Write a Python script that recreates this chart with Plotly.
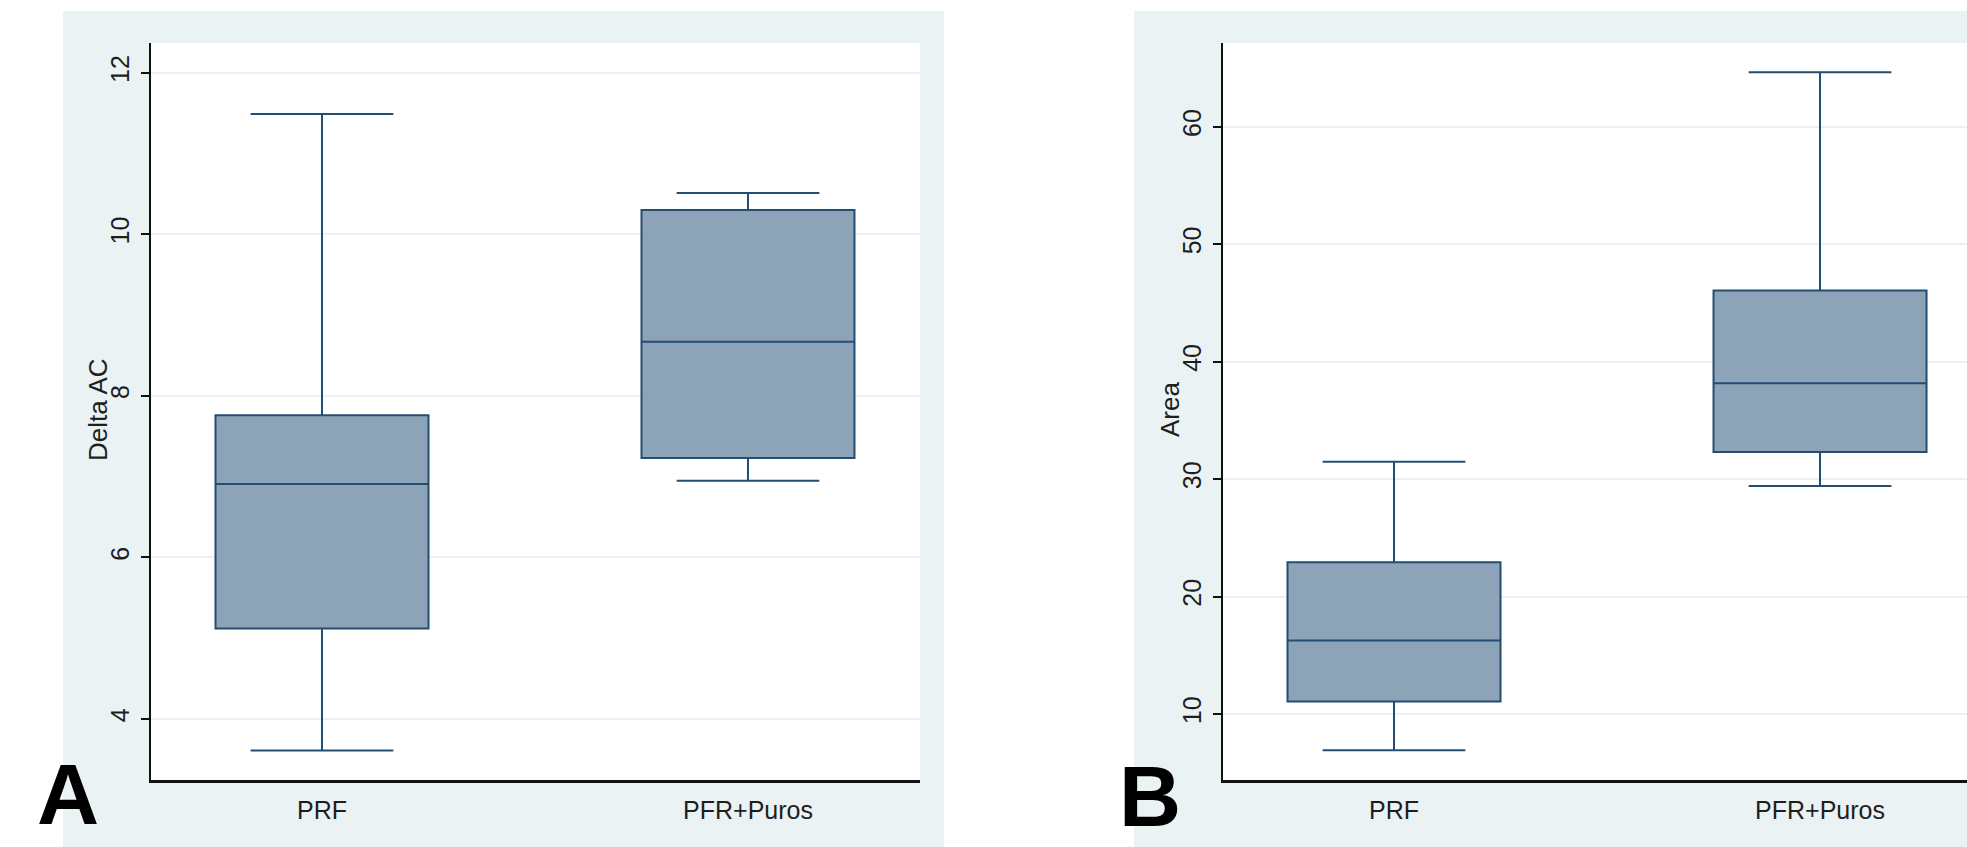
import plotly.graph_objects as go

W, H = 1967, 847

categories = ["PRF", "PFR+Puros"]

# Panel A: Delta AC
delta_lo = [3.61, 6.95]
delta_q1 = [5.12, 7.23]
delta_med = [6.91, 8.67]
delta_q3 = [7.76, 10.30]
delta_hi = [11.49, 10.51]
delta_ticks = [4, 6, 8, 10, 12]

# Panel B: Area
area_lo = [6.92, 29.41]
area_q1 = [11.06, 32.31]
area_med = [16.26, 38.15]
area_q3 = [22.93, 46.06]
area_hi = [31.48, 64.65]
area_ticks = [10, 20, 30, 40, 50, 60]

BG = "#EAF2F3"
FILL = "#8DA3B8"
LINE = "#244D74"
TXT = "#1e1e1e"
FONT = "Liberation Sans, Arial, sans-serif"

fig = go.Figure()

fig.add_trace(go.Box(
    x=categories, q1=delta_q1, median=delta_med, q3=delta_q3,
    lowerfence=delta_lo, upperfence=delta_hi,
    width=0.5, whiskerwidth=0.67, boxpoints=False,
    fillcolor=FILL, line=dict(color=LINE, width=2),
    xaxis="x", yaxis="y", showlegend=False, hoverinfo="skip",
))
fig.add_trace(go.Box(
    x=categories, q1=area_q1, median=area_med, q3=area_q3,
    lowerfence=area_lo, upperfence=area_hi,
    width=0.5, whiskerwidth=0.67, boxpoints=False,
    fillcolor=FILL, line=dict(color=LINE, width=2),
    xaxis="x2", yaxis="y2", showlegend=False, hoverinfo="skip",
))

ydom = [1 - 780 / H, 1 - 43 / H]
xdomA = [151 / W, 920 / W]
xdomB = [1223 / W, 1.0]
xa = dict(
    type="category", categoryorder="array", categoryarray=categories,
    showgrid=False, zeroline=False, showline=True, linecolor="#111", linewidth=3,
    ticks="", tickfont=dict(family=FONT, size=25, color=TXT), ticklabelstandoff=6,
)
ya = dict(
    showgrid=True, gridcolor=BG, gridwidth=2, zeroline=False,
    showline=True, linecolor="#111", linewidth=2,
    ticks="outside", ticklen=8, tickwidth=2, tickcolor="#111",
    tickangle=-90, tickfont=dict(family=FONT, size=25, color=TXT),
    ticklabelstandoff=2,
)

def rect(x0, x1, y0, y1, color):
    return dict(type="rect", xref="paper", yref="paper", x0=x0, x1=x1,
                y0=y0, y1=y1, fillcolor=color, line=dict(width=0), layer="below")

fig.update_layout(
    width=W, height=H,
    margin=dict(l=0, r=0, t=0, b=0),
    paper_bgcolor="white", plot_bgcolor="white",
    xaxis=dict(xa, domain=xdomA, range=[-0.4014, 1.4038], anchor="y"),
    yaxis=dict(ya, domain=ydom, range=[3.245, 12.368], tickvals=delta_ticks, anchor="x"),
    xaxis2=dict(xa, domain=xdomB, range=[-0.4014, 1.345], anchor="y2"),
    yaxis2=dict(ya, domain=ydom, range=[4.38, 67.13], tickvals=area_ticks, anchor="x2"),
    shapes=[
        rect(63 / W, 944 / W, 0, 1 - 11 / H, BG),
        rect(1134 / W, 1.0, 0, 1 - 11 / H, BG),
        rect(xdomA[0], xdomA[1], ydom[0], ydom[1], "white"),
        rect(xdomB[0], xdomB[1], ydom[0], ydom[1], "white"),
    ],
    annotations=[
        dict(text="Delta AC", xref="paper", yref="paper", x=98 / W, y=1 - 410 / H,
             textangle=-90, showarrow=False, xanchor="center", yanchor="middle",
             font=dict(family=FONT, size=26, color=TXT)),
        dict(text="Area", xref="paper", yref="paper", x=1170 / W, y=1 - 410 / H,
             textangle=-90, showarrow=False, xanchor="center", yanchor="middle",
             font=dict(family=FONT, size=26, color=TXT)),
        dict(text="<b>A</b>", xref="paper", yref="paper", x=68 / W, y=3 / H,
             showarrow=False, xanchor="center", yanchor="bottom",
             font=dict(family=FONT, size=86, color="black")),
        dict(text="<b>B</b>", xref="paper", yref="paper", x=1150 / W, y=1 / H,
             showarrow=False, xanchor="center", yanchor="bottom",
             font=dict(family=FONT, size=86, color="black")),
    ],
)

fig.write_html("out.html", config={"displayModeBar": False},
               post_script="document.body.style.margin='0';")
